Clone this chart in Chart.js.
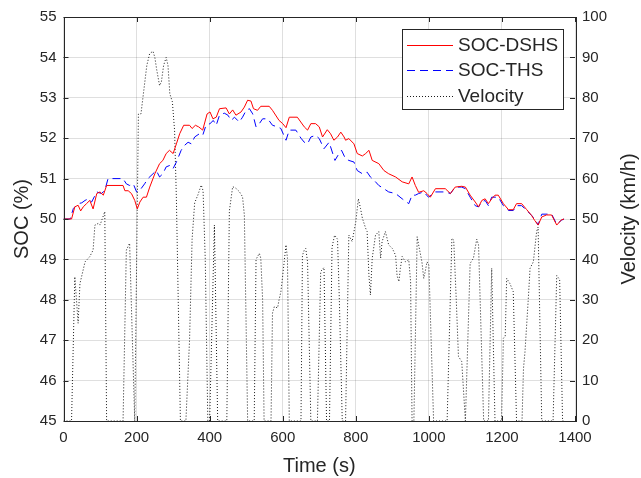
<!DOCTYPE html>
<html>
<head>
<meta charset="utf-8">
<script src="https://cdn.jsdelivr.net/npm/chart.js@4.4.1/dist/chart.umd.min.js"></script>
<style>
  html, body { margin: 0; padding: 0; background: #fff; }
  #wrap { width: 641px; height: 478px; }
</style>
</head>
<body>
<div id="wrap"><canvas id="soc-chart" width="641" height="478"></canvas></div>
<script>
// Series data (time in s)
const dshsTime = [0,22,31,40,47,54,63,72,81,91,100,109,118,163,168,177,186,195,202,209,218,227,236,250,263,272,281,290,300,309,318,329,345,352,361,370,381,393,401,409,418,427,445,454,463,472,486,495,504,513,520,531,540,563,572,590,600,609,618,640,
  659,668,677,690,700,709,722,731,740,750,759,768,772,781,795,804,818,827,836,845,863,877,890,909,927,945,954,963,972,986,995,1004,1018,1045,1059,1072,1090,1100,1113,1127,1136,1145,1154,1163,1172,1181,1190,1204,1218,1231,1240,1254,1268,1281,1290,1299,1309,1322,1336,1350,1363,1370];
const dshsSoc = [50.0,50.0,50.3,50.34,50.2,50.3,50.38,50.46,50.25,50.63,50.67,50.59,50.83,50.83,50.7,50.7,50.63,50.46,50.25,50.42,50.54,50.54,50.79,51.12,51.37,51.45,51.62,51.7,51.62,51.86,52.11,52.32,52.32,52.24,52.32,52.28,52.2,52.6,52.65,52.48,52.52,52.73,52.75,52.6,52.7,52.57,52.65,52.77,52.94,52.92,52.73,52.69,52.79,52.79,52.69,52.44,52.36,52.26,52.52,52.52,
  52.28,52.2,52.36,52.36,52.28,52.03,52.21,52.11,51.95,52.03,52.15,52.03,51.95,51.99,51.86,51.62,51.56,51.62,51.7,51.45,51.37,51.2,51.12,51.04,50.92,50.87,51.04,50.83,50.66,50.7,50.63,50.54,50.75,50.75,50.63,50.79,50.81,50.79,50.59,50.42,50.3,50.46,50.5,50.38,50.5,50.59,50.59,50.38,50.23,50.23,50.38,50.38,50.23,50.09,49.96,49.85,50.05,50.1,50.1,49.85,49.98,50.0];

const thsTime = [0,18,27,40,50,59,68,77,91,104,113,122,163,172,181,191,200,209,222,231,245,254,263,272,281,292,300,309,322,331,341,350,359,372,381,390,401,410,418,427,440,450,459,468,481,490,500,509,518,527,536,545,559,572,586,595,609,618,636,
  650,659,668,677,690,700,713,727,743,754,761,772,781,795,804,818,831,840,850,863,877,890,909,927,945,954,963,972,986,999,1018,1045,1059,1072,1090,1100,1113,1127,1136,1145,1154,1163,1172,1190,1204,1218,1231,1240,1254,1268,1281,1290,1299,1309,1336,1350,1363,1370];
const thsSoc = [50,50,50.26,50.38,50.4,50.46,50.5,50.42,50.67,50.63,50.71,51.0,51.0,50.87,50.83,50.87,50.67,50.71,50.87,51.0,51.12,51.2,51.04,51.12,51.29,51.33,51.25,51.41,51.7,51.82,51.9,51.86,52.03,52.11,52.07,52.32,52.36,52.44,52.32,52.57,52.62,52.57,52.44,52.52,52.4,52.52,52.69,52.73,52.6,52.28,52.36,52.48,52.48,52.32,52.28,52.24,51.95,52.2,52.2,
  52.0,51.9,51.86,52.03,52.07,51.99,51.74,51.9,51.45,51.62,51.7,51.49,51.45,51.41,51.2,51.12,51.16,51.04,50.96,50.83,50.75,50.67,50.63,50.5,50.38,50.59,50.59,50.63,50.67,50.54,50.67,50.67,50.63,50.79,50.79,50.75,50.54,50.33,50.3,50.42,50.46,50.33,50.54,50.54,50.33,50.21,50.21,50.33,50.33,50.21,50.09,50.0,49.85,50.12,50.12,49.87,49.97,50.0];

const speedTime = [0,22,31,40,45,59,72,81,86,95,100,113,118,163,172,181,186,195,205,212,220,228,236,245,250,255,263,268,274,281,286,291,298,304,309,314,320,335,345,352,359,368,377,382,388,395,400,413,422,447,454,463,472,481,490,495,504,522,527,536,540,545,549,568,572,577,586,590,595,600,604,609,613,618,650,654,659,663,668,677,695,704,713,720,728,735,742,750,755,763,772,781,790,800,807,813,818,827,831,836,840,845,854,863,868,872,881,890,900,909,913,918,922,927,936,945,950,954,959,968,972,981,986,990,995,1000,1013,1050,1063,1068,1075,1081,1090,1100,1113,1122,1131,1136,1150,1163,1172,1181,1199,1204,1209,1213,1222,1231,1240,1255,1259,1263,1272,1277,1286,1295,1299,1309,1340,1350,1358,1366,1370];
const speedKmh = [0,0,35.7,24.2,34,39.4,40.7,42.3,48.5,48.9,48.5,51.8,0,0,42.3,44,28,0,76,76,82,88,91,91.5,90,87,83,84,88,90,88,81,79,72,55,30,0,0,20,45,54,56,58.4,57,40,0,0,48.5,0,0,52,58,57.6,56.8,55.5,51,0,0,40,41.5,40.3,30,0,0,26.7,28.3,28,30,32,36,39.4,43.6,40.3,0,0,41,42.3,42.7,39.4,0,0,37,38,0,0,43,46,45,30,0,0,46,44.4,49.3,55,52.6,50.2,47.7,46.9,36,31.2,40.3,46,46.9,40.3,44.4,46.9,43.6,42.7,41,36,34.5,37.8,40.7,39.4,39.9,34.5,0,0,45.6,43.6,39.4,35.3,37,39.4,38.6,0,0,45.2,44.8,30,16,14.7,0,39,40.3,45,43.6,0,0,37.8,0,0,20.5,21,35.3,34,32,0,0,13,17,30,37.8,39.4,46.9,48,0,0,36,35,0,0];

const legendLabels = ['SOC-DSHS', 'SOC-THS', 'Velocity'];

const axisColor = '#262626';
const gridColor = 'rgba(38,38,38,0.15)';
const fontFamily = '"Liberation Sans", Arial, Helvetica, sans-serif';

function toPoints(xs, ys) {
    return xs.map((x, i) => ({ x: x, y: ys[i] }));
}

// MATLAB-like frame, inward ticks, legend and right axis title
const matlabFrame = {
    id: 'matlabFrame',
    afterDatasetsDraw(chart) {
        const { ctx, chartArea: a, scales } = chart;
        ctx.save();
        ctx.strokeStyle = axisColor;
        ctx.lineWidth = 1;
        ctx.setLineDash([]);
        ctx.beginPath();
        scales.x.ticks.forEach(t => {
            const px = Math.round(scales.x.getPixelForValue(t.value)) + 0.5;
            ctx.moveTo(px, a.bottom); ctx.lineTo(px, a.bottom - 5);
            ctx.moveTo(px, a.top); ctx.lineTo(px, a.top + 5);
        });
        scales.y.ticks.forEach(t => {
            const py = Math.round(scales.y.getPixelForValue(t.value)) + 0.5;
            ctx.moveTo(a.left, py); ctx.lineTo(a.left + 5, py);
        });
        scales.y1.ticks.forEach(t => {
            const py = Math.round(scales.y1.getPixelForValue(t.value)) + 0.5;
            ctx.moveTo(a.right, py); ctx.lineTo(a.right - 5, py);
        });
        ctx.stroke();
        ctx.strokeRect(Math.round(a.left) + 0.5, Math.round(a.top) + 0.5,
            Math.round(a.right - a.left), Math.round(a.bottom - a.top));

        // legend box
        const lx = 402, ly = 29, lw = 161, lh = 80;
        ctx.fillStyle = '#fff';
        ctx.fillRect(lx, ly, lw, lh);
        ctx.strokeRect(lx + 0.5, ly + 0.5, lw, lh);
        ctx.font = '19px ' + fontFamily;
        ctx.textBaseline = 'middle';
        ctx.textAlign = 'left';
        chart.data.datasets.forEach((ds, i) => {
            const y = ly + 15.5 + i * 25.5;
            ctx.strokeStyle = ds.borderColor;
            ctx.lineWidth = ds.borderWidth;
            ctx.setLineDash(ds.borderDash || []);
            ctx.beginPath();
            ctx.moveTo(lx + 5, Math.round(y) + 0.5);
            ctx.lineTo(lx + 51, Math.round(y) + 0.5);
            ctx.stroke();
            ctx.fillStyle = axisColor;
            ctx.fillText(legendLabels[i], lx + 56, y + 1);
        });

        // right axis title, reads bottom to top
        ctx.setLineDash([]);
        ctx.translate(629, (a.top + a.bottom) / 2);
        ctx.rotate(-Math.PI / 2);
        ctx.textAlign = 'center';
        ctx.font = '20px ' + fontFamily;
        ctx.fillStyle = axisColor;
        ctx.fillText('Velocity (km/h)', 0, 0);
        ctx.restore();
    }
};

const ctx = document.getElementById('soc-chart').getContext('2d');
new Chart(ctx, {
    type: 'line',
    data: {
        datasets: [{
            label: legendLabels[0],
            data: toPoints(dshsTime, dshsSoc),
            borderColor: '#ff0000',
            borderWidth: 1,
            yAxisID: 'y'
        }, {
            label: legendLabels[1],
            data: toPoints(thsTime, thsSoc),
            borderColor: '#0000ff',
            borderWidth: 1,
            borderDash: [8, 5],
            yAxisID: 'y'
        }, {
            label: legendLabels[2],
            data: toPoints(speedTime, speedKmh),
            borderColor: '#1a1a1a',
            borderWidth: 1,
            borderDash: [1, 2],
            yAxisID: 'y1'
        }]
    },
    options: {
        responsive: false,
        animation: false,
        elements: { point: { radius: 0 }, line: { tension: 0 } },
        layout: { padding: { top: 17, right: 0, left: 0, bottom: 0 } },
        plugins: { legend: { display: false }, tooltip: { enabled: false } },
        scales: {
            x: {
                type: 'linear',
                min: 0, max: 1400,
                ticks: { stepSize: 200, color: axisColor, padding: 8, maxRotation: 0,
                         callback: v => String(v),
                         font: { family: fontFamily, size: 15 } },
                grid: { color: gridColor, drawTicks: false },
                border: { display: false },
                title: { display: true, text: 'Time (s)', color: axisColor,
                         font: { family: fontFamily, size: 20 }, padding: { top: 0, bottom: 0 } },
                afterFit: s => { s.height = 57; }
            },
            y: {
                position: 'left',
                min: 45, max: 55,
                ticks: { stepSize: 1, color: axisColor, padding: 7,
                         font: { family: fontFamily, size: 15 } },
                grid: { color: gridColor, drawTicks: false },
                border: { display: false },
                title: { display: true, text: 'SOC (%)', color: axisColor,
                         font: { family: fontFamily, size: 20 }, padding: { top: 10, bottom: 0 } },
                afterFit: s => { s.width = 63.5; }
            },
            y1: {
                position: 'right',
                min: 0, max: 100,
                ticks: { stepSize: 10, color: axisColor, padding: 7,
                         font: { family: fontFamily, size: 15 } },
                grid: { drawOnChartArea: false, drawTicks: false },
                border: { display: false },
                afterFit: s => { s.width = 66; }
            }
        }
    },
    plugins: [matlabFrame]
});
</script>
</body>
</html>
